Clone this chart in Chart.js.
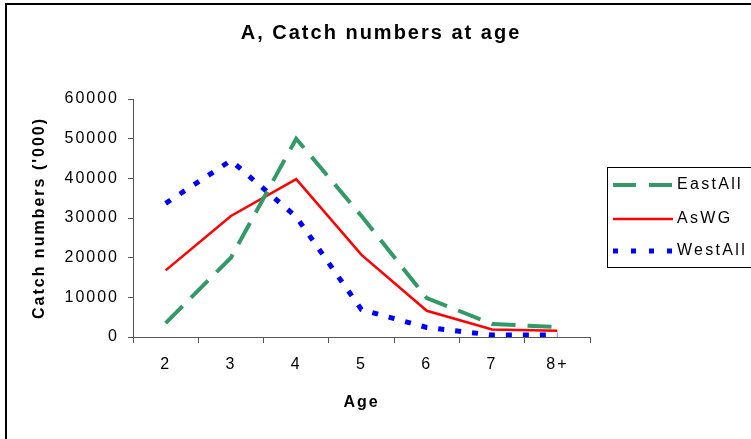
<!DOCTYPE html>
<html>
<head>
<meta charset="utf-8">
<script src="https://cdn.jsdelivr.net/npm/chart.js@4.4.1/dist/chart.umd.min.js"></script>
<style>
	body { margin: 0; background: #fff; }
	#wrap { width: 751px; height: 439px; position: relative; }
</style>
</head>
<body>
<div id="wrap"><canvas id="chart"></canvas></div>
<script>
const ages = ['2', '3', '4', '5', '6', '7', '8+'];
const eastAll = [3500, 20000, 50000, 30500, 9800, 3300, 2500];
const asWG = [16800, 30500, 39800, 20700, 6600, 1900, 1600];
const westAll = [33700, 44500, 30300, 6900, 2400, 500, 500];
const yTicks = [0, 10000, 20000, 30000, 40000, 50000, 60000];

const font = 'Liberation Sans, Arial, sans-serif';

// letter spacing like the old Excel export
const spacing = {
	id: 'spacing',
	beforeLayout(chart) { chart.ctx.letterSpacing = '2px'; },
	beforeDraw(chart) { chart.ctx.letterSpacing = '2px'; }
};

const frame = {
	id: 'frame',
	afterDraw(chart) {
		const ctx = chart.ctx;
		ctx.save();
		ctx.strokeStyle = '#000';
		ctx.lineWidth = 2;
		ctx.beginPath();
		ctx.moveTo(6, 439);
		ctx.lineTo(6, 4);
		ctx.lineTo(751, 4);
		ctx.stroke();
		ctx.restore();
	}
};

const legendBox = {
	id: 'legendBox',
	afterDraw(chart) {
		const ctx = chart.ctx;
		ctx.save();
		ctx.strokeStyle = '#000';
		ctx.lineWidth = 1;
		ctx.strokeRect(607.5, 167.5, 160, 100);
		const rows = [185, 219, 251];
		chart.data.datasets.forEach((ds, i) => {
			const y = rows[i];
			ctx.strokeStyle = ds.borderColor;
			ctx.lineWidth = ds.borderWidth;
			ctx.setLineDash(ds.legendDash || []);
			ctx.beginPath();
			ctx.moveTo(613, y);
			ctx.lineTo(673, y);
			ctx.stroke();
			ctx.setLineDash([]);
			ctx.letterSpacing = '2.3px';
			ctx.fillStyle = '#000';
			ctx.font = '16px ' + font;
			ctx.textBaseline = 'middle';
			ctx.textAlign = 'left';
			ctx.fillText(ds.label, 677, y);
		});
		ctx.restore();
	}
};

const ctx = document.getElementById('chart').getContext('2d');
new Chart(ctx, {
	type: 'line',
	data: {
		labels: ages,
		datasets: [{
			label: 'EastAll',
			data: eastAll,
			borderColor: '#339966',
			borderWidth: 4,
			borderDash: [24, 12],
			legendDash: [23, 13]
		}, {
			label: 'AsWG',
			data: asWG,
			borderColor: '#ff0000',
			borderWidth: 2.5
		}, {
			label: 'WestAll',
			data: westAll,
			borderColor: '#0000ff',
			borderWidth: 5,
			borderDash: [6, 11],
			legendDash: [5, 13]
		}]
	},
	options: {
		responsive: true,
		maintainAspectRatio: false,
		animation: false,
		layout: { padding: { left: 11, right: 0, top: 0, bottom: 0 } },
		elements: {
			point: { radius: 0 },
			line: { tension: 0, borderCapStyle: 'butt', fill: false }
		},
		plugins: {
			legend: { display: false },
			tooltip: { enabled: false },
			title: {
				display: true,
				text: 'A, Catch numbers at age',
				color: '#000',
				font: { family: font, size: 20, weight: 'bold' },
				padding: { top: 21, bottom: 54 }
			}
		},
		scales: {
			x: {
				offset: true,
				afterFit: s => { s.height = 102; },
				grid: { display: true, drawOnChartArea: false, offset: true, tickLength: 6, color: '#555' },
				border: { display: true, color: '#555', width: 1 },
				ticks: { color: '#000', padding: 12, font: { family: font, size: 16 }, maxRotation: 0 },
				title: {
					display: true,
					text: 'Age',
					color: '#000',
					font: { family: font, size: 16, weight: 'bold' },
					padding: { top: 0, bottom: 27 }
				}
			},
			y: {
				min: 0,
				max: 60000,
				afterFit: s => { s.width = 122; },
				afterBuildTicks: s => { s.ticks = yTicks.map(v => ({ value: v })); },
				grid: { display: true, drawOnChartArea: false, tickLength: 5, color: '#555' },
				border: { display: true, color: '#555', width: 1 },
				ticks: { color: '#000', padding: 9, font: { family: font, size: 16 }, callback: v => String(v) },
				title: {
					display: true,
					text: "Catch numbers ('000)",
					color: '#000',
					font: { family: font, size: 16, weight: 'bold' },
					padding: { top: 19, bottom: 0 }
				}
			},
			side: {
				type: 'linear',
				position: 'right',
				afterFit: s => { s.width = 161; },
				grid: { display: false },
				border: { display: false },
				ticks: { display: false }
			}
		}
	},
	plugins: [spacing, frame, legendBox]
});
</script>
</body>
</html>
